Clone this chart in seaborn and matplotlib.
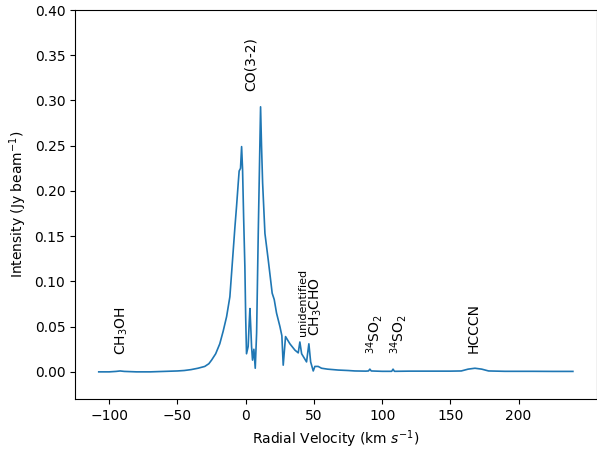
"""
Spectrum plot: intensity vs radial velocity with line identifications.
"""

import matplotlib
matplotlib.use("Agg")
import matplotlib.pyplot as plt
import seaborn as sns
import pandas as pd

# ==========================================
# DATA
# ==========================================
velocity = [
    -107.7, -100, -95, -92, -89, -80, -70, -60, -50, -45, -40, -35, -30, -27,
    -25, -22, -19, -16.5, -14, -11.6, -10.3, -9.1, -7.9, -6.7, -5.5, -4.8,
    -3.8, -3.0, -2.3, -1.5, -0.6, 0.0, 0.6, 1.8, 2.6, 3.1, 3.7, 4.3, 5.0,
    6.0, 7.0, 8.0, 9.2, 10.9, 11.6, 12.4, 14.1, 16.5, 18.0, 19.4, 20.9,
    22.6, 25.1, 26.5, 27.5, 29.2, 32.4, 36.1, 38.5, 39.7, 41.0, 44.6, 46.3,
    47.6, 49.5, 50.7, 53.1, 55.6, 60, 67.8, 75, 80, 88, 90, 91, 92, 100,
    107, 108, 109, 120, 135, 150, 158, 163, 168, 173, 178, 190, 210, 225,
    239.8,
]
intensity = [
    0.0, 0.0, 0.0005, 0.001, 0.0005, 0.0, 0.0, 0.0005, 0.001, 0.0015, 0.0025,
    0.004, 0.006, 0.009, 0.013, 0.020, 0.031, 0.045, 0.061, 0.083, 0.110,
    0.135, 0.160, 0.183, 0.208, 0.222, 0.225, 0.249, 0.224, 0.170, 0.116,
    0.060, 0.020, 0.028, 0.055, 0.070, 0.050, 0.028, 0.013, 0.025, 0.004,
    0.043, 0.153, 0.293, 0.250, 0.209, 0.153, 0.124, 0.105, 0.087, 0.080,
    0.065, 0.050, 0.040, 0.0074, 0.039, 0.031, 0.024, 0.021, 0.033, 0.020,
    0.011, 0.031, 0.011, 0.001, 0.006, 0.006, 0.004, 0.003, 0.002, 0.0015,
    0.001, 0.0008, 0.001, 0.003, 0.001, 0.0006, 0.0006, 0.003, 0.0006,
    0.0008, 0.0008, 0.0008, 0.001, 0.003, 0.004, 0.003, 0.001, 0.0006,
    0.0006, 0.0005, 0.0005,
]

# Line identifications
line_names = ["CH$_3$OH", "CO(3-2)", "unidentified", "CH$_3$CHO",
              "$^{34}$SO$_2$", "$^{34}$SO$_2$", "HCCCN"]
line_vel = [-91.0, 4.0, 42.3, 51.3, 94.7, 111.8, 166.7]
line_y = [0.019, 0.31, 0.040, 0.040, 0.020, 0.020, 0.021]
line_size = [10, 10, 8, 10, 10, 10, 10]


def main():
    df = pd.DataFrame({"Velocity": velocity, "Intensity": intensity})

    fig = plt.figure(figsize=(5.97, 4.5), dpi=100)
    ax = fig.add_axes([75 / 597, 1 - 399 / 450, 521.5 / 597, 389 / 450])

    sns.lineplot(data=df, x="Velocity", y="Intensity", ax=ax,
                 color="#1f77b4", linewidth=1.2, estimator=None)

    for name, v, y, fs in zip(line_names, line_vel, line_y, line_size):
        ax.text(v, y, name, rotation=90, ha="center", va="bottom", fontsize=fs)

    ax.set_xlim(-125.1, 257.1)
    ax.set_ylim(-0.03, 0.40)
    ax.set_xticks([-100, -50, 0, 50, 100, 150, 200])
    ax.set_yticks([0.0, 0.05, 0.10, 0.15, 0.20, 0.25, 0.30, 0.35, 0.40])
    ax.yaxis.set_major_formatter(plt.FormatStrFormatter("%.2f"))
    ax.set_xlabel("Radial Velocity (km $s^{-1}$)")
    ax.set_ylabel("Intensity (Jy beam$^{-1}$)")

    fig.savefig("out.png", dpi=100)


if __name__ == "__main__":
    main()
